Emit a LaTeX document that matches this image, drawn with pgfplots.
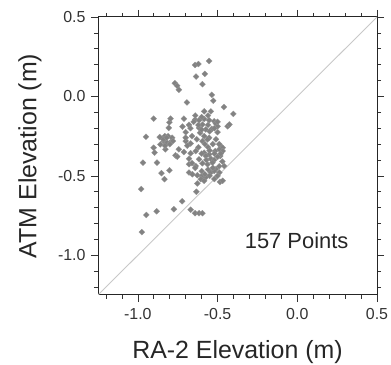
\documentclass[border=0pt]{standalone}
\usepackage{fontspec}
\setmainfont{Liberation Sans}
\usepackage{pgfplots}
\pgfplotsset{compat=1.18}
\definecolor{ptgray}{RGB}{130,130,130}
\definecolor{diaggray}{RGB}{200,200,200}
\begin{document}
\begin{tikzpicture}[x=1bp,y=1bp]
\path[use as bounding box] (0,0) rectangle (391,365);
\begin{axis}[
  at={(98bp,70bp)}, anchor=south west,
  scale only axis, width=279bp, height=278bp,
  xmin=-1.25, xmax=0.5, ymin=-1.25, ymax=0.5,
  xtick={-1,-0.5,0,0.5}, ytick={-1,-0.5,0,0.5},
  minor xtick={-1.2,-1.1,-0.9,-0.8,-0.7,-0.6,-0.4,-0.3,-0.2,-0.1,0.1,0.2,0.3,0.4},
  minor ytick={-1.2,-1.1,-0.9,-0.8,-0.7,-0.6,-0.4,-0.3,-0.2,-0.1,0.1,0.2,0.3,0.4},
  tick align=outside, tick pos=both,
  major tick length=7bp, minor tick length=4bp,
  tick style={black!80, line width=0.7bp},
  axis line style={black!85, line width=1bp},
  xticklabel pos=lower, yticklabel pos=left,
  /pgf/number format/assume math mode=true,
  /pgf/number format/fixed,
  /pgf/number format/fixed zerofill,
  /pgf/number format/precision=1,
  ticklabel style={font=\fontsize{16}{18}\selectfont, text=black!80},
  xticklabel style={yshift=-3bp},
  yticklabel style={xshift=-2bp},
  xlabel={RA-2 Elevation (m)},
  ylabel={ATM Elevation (m)},
  label style={font=\fontsize{25}{28}\selectfont, text=black!85},
  xlabel style={at={(axis description cs:0.5,-0.205)}, anchor=center},
  ylabel style={at={(axis description cs:-0.244,0.5)}, anchor=center},
  clip=true,
]
\addplot[diaggray, line width=0.9bp] coordinates {(-1.25,-1.25) (0.5,0.5)};
\addplot[only marks, mark=square*, mark size=2.1bp, mark options={rotate=45, fill=ptgray, draw=ptgray!85, line width=0.3bp}] coordinates {
(-0.553,0.223) (-0.641,0.198) (-0.620,0.204) (-0.635,0.125) (-0.580,0.142)
(-0.768,0.083) (-0.753,0.067) (-0.743,0.042) (-0.595,0.077) (-0.536,0.010)
(-0.527,-0.027) (-0.692,-0.038) (-0.460,-0.067) (-0.584,-0.094) (-0.542,-0.094)
(-0.401,-0.110) (-0.901,-0.140) (-0.711,-0.140) (-0.641,-0.146) (-0.616,-0.150)
(-0.584,-0.142) (-0.553,-0.150) (-0.521,-0.156) (-0.802,-0.163) (-0.679,-0.179)
(-0.595,-0.177) (-0.511,-0.171) (-0.500,-0.188) (-0.437,-0.188) (-0.426,-0.177)
(-0.806,-0.198) (-0.616,-0.198) (-0.574,-0.208) (-0.536,-0.204) (-0.949,-0.254)
(-0.863,-0.256) (-0.831,-0.250) (-0.810,-0.250) (-0.785,-0.260) (-0.700,-0.225)
(-0.610,-0.229) (-0.584,-0.250) (-0.553,-0.260) (-0.500,-0.225) (-0.901,-0.323)
(-0.838,-0.281) (-0.816,-0.292) (-0.795,-0.288) (-0.859,-0.302) (-0.700,-0.281)
(-0.669,-0.296) (-0.595,-0.281) (-0.563,-0.271) (-0.479,-0.313) (-0.468,-0.323)
(-0.895,-0.354) (-0.827,-0.333) (-0.764,-0.371) (-0.711,-0.350) (-0.669,-0.358)
(-0.637,-0.344) (-0.584,-0.354) (-0.553,-0.365) (-0.515,-0.344) (-0.489,-0.333)
(-0.468,-0.344) (-0.968,-0.417) (-0.880,-0.417) (-0.753,-0.379) (-0.679,-0.392)
(-0.616,-0.396) (-0.574,-0.375) (-0.542,-0.392) (-0.521,-0.400) (-0.483,-0.375)
(-0.679,-0.427) (-0.637,-0.438) (-0.595,-0.421) (-0.563,-0.427) (-0.532,-0.417)
(-0.511,-0.458) (-0.458,-0.438) (-0.852,-0.483) (-0.802,-0.465) (-0.679,-0.479)
(-0.658,-0.490) (-0.627,-0.496) (-0.599,-0.500) (-0.574,-0.510) (-0.542,-0.479)
(-0.521,-0.469) (-0.489,-0.479) (-0.833,-0.521) (-0.605,-0.521) (-0.584,-0.531)
(-0.485,-0.538) (-0.468,-0.531) (-0.627,-0.548) (-0.979,-0.583) (-0.633,-0.600)
(-0.722,-0.660) (-0.947,-0.746) (-0.882,-0.723) (-0.774,-0.710) (-0.669,-0.713)
(-0.641,-0.735) (-0.616,-0.735) (-0.595,-0.735) (-0.975,-0.854) (-0.795,-0.140)
(-0.840,-0.270) (-0.820,-0.260) (-0.800,-0.300) (-0.830,-0.310) (-0.780,-0.280)
(-0.743,-0.333)
(-0.650,-0.160) (-0.620,-0.180) (-0.600,-0.210) (-0.560,-0.180) (-0.550,-0.220)
(-0.520,-0.200) (-0.500,-0.160) (-0.660,-0.250) (-0.630,-0.270) (-0.580,-0.300)
(-0.560,-0.320) (-0.530,-0.300) (-0.510,-0.270) (-0.490,-0.300) (-0.620,-0.320)
(-0.600,-0.360) (-0.570,-0.400) (-0.550,-0.340) (-0.520,-0.360) (-0.500,-0.380)
(-0.480,-0.360) (-0.470,-0.410) (-0.490,-0.440) (-0.530,-0.450) (-0.560,-0.460)
(-0.600,-0.470) (-0.640,-0.450) (-0.660,-0.420) (-0.580,-0.490) (-0.550,-0.500)
(-0.520,-0.520) (-0.500,-0.500) (-0.690,-0.310) (-0.670,-0.200) (-0.720,-0.190)
(-0.700,-0.260) (-0.560,-0.120) (-0.600,-0.130) (-0.640,-0.120)
};
\node[font=\fontsize{22}{26}\selectfont, text=black!85] at (axis cs:-0.004,-0.906) {157 Points};
\end{axis}
\end{tikzpicture}
\end{document}
